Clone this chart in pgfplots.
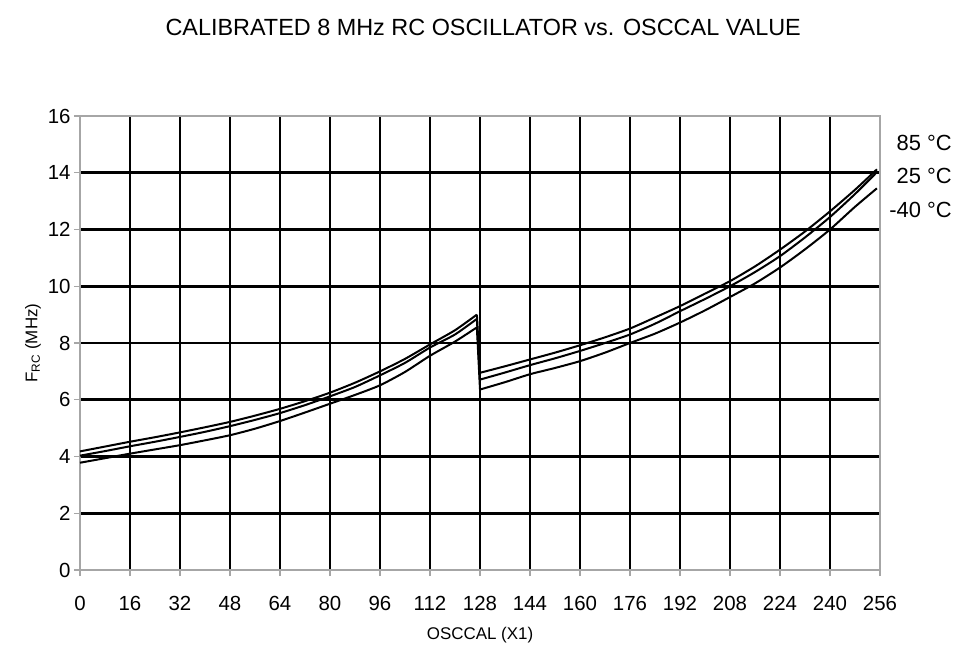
\documentclass[border=0pt]{standalone}
\usepackage{pgfplots}
\usepackage{pgfplotstable}
\pgfplotsset{compat=1.18}
\usepackage{fontspec}
\setmainfont{Liberation Sans}

\pgfplotstableread{
x    hot    room   cold
0    4.18   4.03   3.78
8    4.35   4.19   3.94
16   4.52   4.36   4.10
24   4.68   4.52   4.25
32   4.85   4.69   4.40
40   5.03   4.87   4.57
48   5.22   5.07   4.75
56   5.44   5.29   4.98
64   5.68   5.53   5.25
72   5.95   5.81   5.55
80   6.25   6.12   5.86
88   6.60   6.45   6.17
96   7.00   6.86   6.51
104  7.44   7.30   6.98
112  7.95   7.84   7.55
120  8.45   8.30   8.05
127  9.00   8.85   8.55
}\lefttable

\pgfplotstableread{
x    hot    room   cold
127  9.00   8.85   8.55
128  6.95   6.71   6.36
}\droptable

\pgfplotstableread{
x    hot    room   cold
128  6.95   6.71   6.36
136  7.18   6.96   6.62
144  7.42   7.22   6.90
152  7.66   7.46   7.12
160  7.92   7.72   7.36
168  8.20   8.00   7.66
176  8.51   8.30   8.00
184  8.90   8.68   8.33
192  9.30   9.12   8.72
200  9.74   9.55   9.15
208  10.18  10.00  9.62
216  10.70  10.50  10.10
224  11.29  11.06  10.66
232  11.93  11.72  11.30
240  12.64  12.44  12.00
248  13.40  13.25  12.80
255  14.12  14.02  13.45
}\righttable

\begin{document}
\begin{tikzpicture}
\begin{axis}[
  scale only axis,
  width=800bp, height=454bp,
  xmin=0, xmax=256, ymin=0, ymax=16,
  xtick distance=16, ytick distance=2,
  xtick pos=bottom, ytick pos=left,
  tick align=outside,
  major tick length=6bp,
  tick style={gray!70, line width=1.2bp},
  grid=major,
  major grid style={black, line width=2.6bp},
  axis line style={gray!70, line width=2bp},
  ticklabel style={font=\fontsize{20.5}{20.5}\selectfont},
  /pgf/number format/assume math mode=true,
  xticklabel style={text height=14bp, text depth=0pt, yshift=-17bp},
  yticklabel style={xshift=0bp},
  xlabel={OSCCAL (X1)},
  xlabel style={font=\fontsize{17}{17}\selectfont, yshift=-10bp},
  ylabel={F\textsubscript{RC} (MHz)},
  ylabel style={font=\fontsize{17}{17}\selectfont, yshift=0bp},
  clip=false,
]
\addplot[black, line width=2bp, smooth, tension=0.4] table[x=x, y=hot] {\lefttable};
\addplot[black, line width=2bp, smooth, tension=0.4] table[x=x, y=room] {\lefttable};
\addplot[black, line width=2bp, smooth, tension=0.4] table[x=x, y=cold] {\lefttable};
\addplot[black, line width=2bp] table[x=x, y=hot] {\droptable};
\addplot[black, line width=2bp] table[x=x, y=room] {\droptable};
\addplot[black, line width=2bp] table[x=x, y=cold] {\droptable};
\addplot[black, line width=2bp, smooth, tension=0.4] table[x=x, y=hot] {\righttable};
\addplot[black, line width=2bp, smooth, tension=0.4] table[x=x, y=room] {\righttable};
\addplot[black, line width=2bp, smooth, tension=0.4] table[x=x, y=cold] {\righttable};

\node[anchor=east, font=\fontsize{22}{22}\selectfont] at (rel axis cs:1.094,0.94) {85 °C};
\node[anchor=east, font=\fontsize{22}{22}\selectfont] at (rel axis cs:1.094,0.868) {25 °C};
\node[anchor=east, font=\fontsize{22}{22}\selectfont] at (rel axis cs:1.094,0.793) {-40 °C};
\node[font=\fontsize{23.5}{23.5}\selectfont] at (rel axis cs:0.504,1.194) {CALIBRATED 8 MHz RC OSCILLATOR vs. OSCCAL VALUE};
\coordinate (ll) at (rel axis cs:0,0);
\end{axis}
\pgfresetboundingbox
\path[use as bounding box] ([xshift=-80bp,yshift=-82bp]ll) rectangle ([xshift=887bp,yshift=570bp]ll);
\end{tikzpicture}
\end{document}
